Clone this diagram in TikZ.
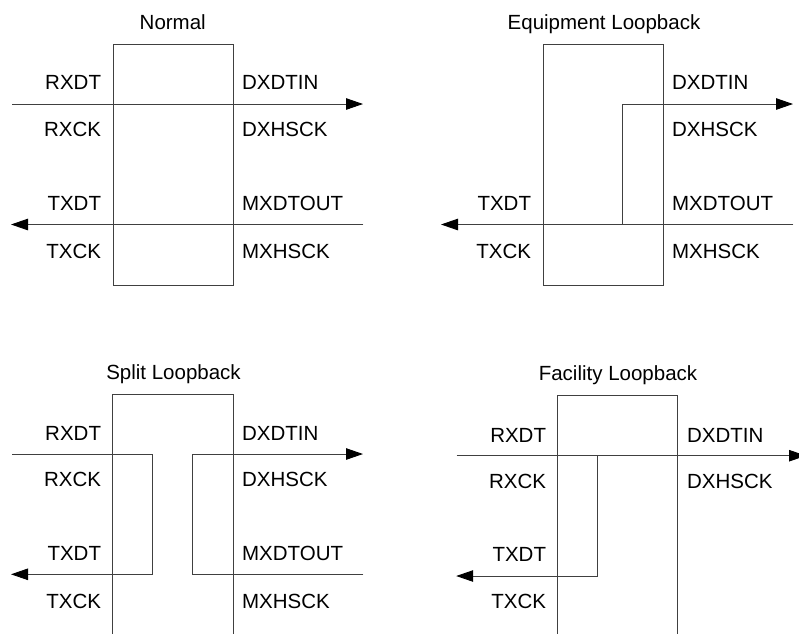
\documentclass[tikz,border=0pt]{standalone}
\usepackage{fontspec}
\setmainfont{Liberation Sans}
\usetikzlibrary{arrows.meta}
\tikzstyle{sig} = [-{Triangle[length=17pt,width=11.5pt,color=black]}]
\tikzstyle{lbl} = [inner sep=0pt,text=black,font=\fontsize{20.5pt}{24pt}\selectfont]
\tikzstyle{chip} = [draw,inner sep=0pt,anchor=north west,minimum width=120.5pt,minimum height=241pt]

\begin{document}
\begin{tikzpicture}[yscale=-1,line width=0.9pt,color=black!75]
			\path[use as bounding box] (0pt,0pt) rectangle (799pt,633pt);
			\clip (0pt,0pt) rectangle (799pt,633pt);
			\node[chip] (boxN) at (112.5pt,43.5pt) {};
			\node[lbl,anchor=base] (tN) at (172.75pt,29.3pt) {Normal};
			\node[lbl,anchor=base east] (nRxdt) at (101.5pt,89.5pt) {RXDT};
			\node[lbl,anchor=base east] (nRxck) at (101.5pt,136pt) {RXCK};
			\node[lbl,anchor=base east] (nTxdt) at (101.5pt,210pt) {TXDT};
			\node[lbl,anchor=base east] (nTxck) at (101.5pt,258pt) {TXCK};
			\node[lbl,anchor=base west] (nDxdtin) at (241.7pt,89.5pt) {DXDTIN};
			\node[lbl,anchor=base west] (nDxhsck) at (241.7pt,136pt) {DXHSCK};
			\node[lbl,anchor=base west] (nMxdtout) at (241.7pt,210pt) {MXDTOUT};
			\node[lbl,anchor=base west] (nMxhsck) at (241.7pt,258pt) {MXHSCK};
			\coordinate (nRxIn) at (12pt,104pt);
			\coordinate (nDxOut) at (363pt,104pt);
			\coordinate (nMxIn) at (363.3pt,224.5pt);
			\coordinate (nTxOut) at (11pt,224.5pt);
			\draw[sig] (nRxIn) -- (nDxOut);
			\draw[sig] (nMxIn) -- (nTxOut);
			\node[chip] (boxE) at (542.5pt,43.5pt) {};
			\node[lbl,anchor=base] (tE) at (604pt,29.3pt) {Equipment Loopback};
			\node[lbl,anchor=base east] (eTxdt) at (531.5pt,210pt) {TXDT};
			\node[lbl,anchor=base east] (eTxck) at (531.5pt,258pt) {TXCK};
			\node[lbl,anchor=base west] (eDxdtin) at (671.7pt,89.5pt) {DXDTIN};
			\node[lbl,anchor=base west] (eDxhsck) at (671.7pt,136pt) {DXHSCK};
			\node[lbl,anchor=base west] (eMxdtout) at (671.7pt,210pt) {MXDTOUT};
			\node[lbl,anchor=base west] (eMxhsck) at (671.7pt,258pt) {MXHSCK};
			\coordinate (eMxIn) at (793.3pt,224.5pt);
			\coordinate (eTxOut) at (441pt,224.5pt);
			\coordinate (eTap) at (622.7pt,224.5pt);
			\coordinate (eDxOut) at (793pt,104pt);
			\draw[sig] (eMxIn) -- (eTxOut);
			\draw[sig] (eTap) |- (eDxOut);
			\draw (112.5pt,640pt) |- (233pt,394pt) -- (233pt,640pt);
			\node[lbl,anchor=base] (tS) at (173.5pt,379.3pt) {Split Loopback};
			\node[lbl,anchor=base east] (sRxdt) at (101.5pt,440pt) {RXDT};
			\node[lbl,anchor=base east] (sRxck) at (101.5pt,486.7pt) {RXCK};
			\node[lbl,anchor=base east] (sTxdt) at (101.5pt,560pt) {TXDT};
			\node[lbl,anchor=base east] (sTxck) at (101.5pt,608pt) {TXCK};
			\node[lbl,anchor=base west] (sDxdtin) at (241.7pt,440pt) {DXDTIN};
			\node[lbl,anchor=base west] (sDxhsck) at (241.7pt,486.7pt) {DXHSCK};
			\node[lbl,anchor=base west] (sMxdtout) at (241.7pt,560pt) {MXDTOUT};
			\node[lbl,anchor=base west] (sMxhsck) at (241.7pt,608pt) {MXHSCK};
			\coordinate (sRxIn) at (12pt,454pt);
			\coordinate (sRxTurn) at (152.7pt,454pt);
			\coordinate (sTxOut) at (11pt,574.3pt);
			\coordinate (sMxIn) at (363.3pt,574.3pt);
			\coordinate (sMxTurn) at (192.7pt,574.3pt);
			\coordinate (sDxOut) at (363pt,454pt);
			\draw[sig] (sRxIn) -- (sRxTurn) |- (sTxOut);
			\draw[sig] (sMxIn) -- (sMxTurn) |- (sDxOut);
			\draw (557pt,640pt) |- (677pt,395.5pt) -- (677pt,640pt);
			\node[lbl,anchor=base] (tF) at (618pt,380.7pt) {Facility Loopback};
			\node[lbl,anchor=base east] (fRxdt) at (546.5pt,442.3pt) {RXDT};
			\node[lbl,anchor=base east] (fRxck) at (546.5pt,488.3pt) {RXCK};
			\node[lbl,anchor=base east] (fTxdt) at (546.5pt,561pt) {TXDT};
			\node[lbl,anchor=base east] (fTxck) at (546.5pt,608pt) {TXCK};
			\node[lbl,anchor=base west] (fDxdtin) at (686.7pt,442.3pt) {DXDTIN};
			\node[lbl,anchor=base west] (fDxhsck) at (686.7pt,488.3pt) {DXHSCK};
			\coordinate (fRxIn) at (456.7pt,455.7pt);
			\coordinate (fDxOut) at (806pt,455.7pt);
			\coordinate (fTap) at (597.3pt,455.7pt);
			\coordinate (fTxOut) at (456.2pt,576pt);
			\draw[sig] (fRxIn) -- (fDxOut);
			\draw[sig] (fTap) |- (fTxOut);
		\end{tikzpicture}
\end{document}
